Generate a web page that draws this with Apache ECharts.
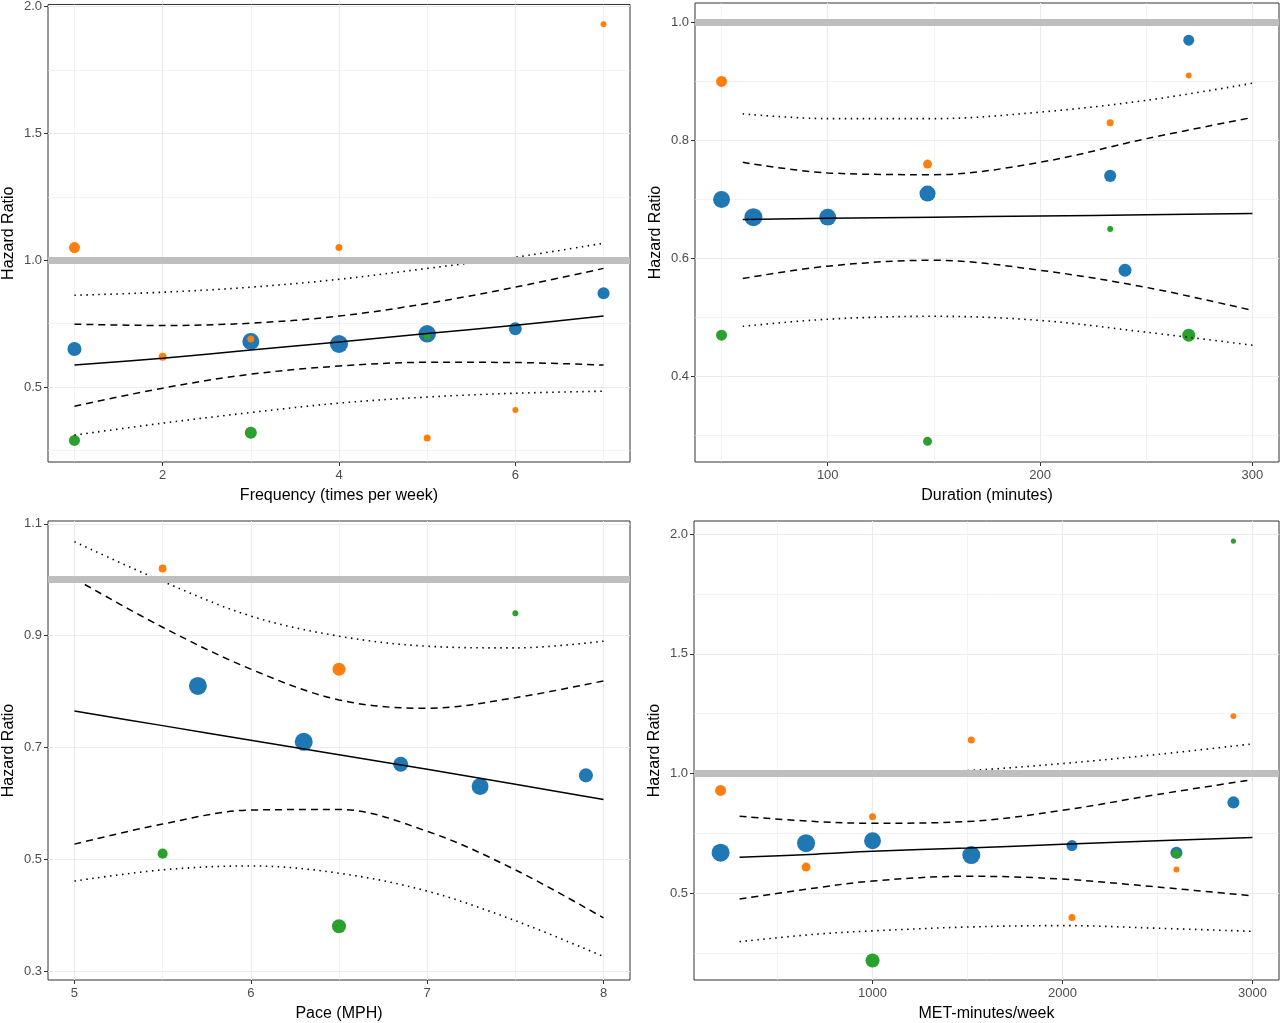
<!DOCTYPE html>
<html>
<head>
<meta charset="utf-8">
<script src="https://cdn.jsdelivr.net/npm/echarts@6/dist/echarts.min.js"></script>
<style>html,body{margin:0;padding:0;background:#fff;}#c{width:1280px;height:1023px;}</style>
</head>
<body>
<div id="c"></div>
<script>
// ---------- Panel 1: Frequency ----------
const p1Title = 'Frequency (times per week)';
const p1XTicks = [2, 4, 6];
const p1YTicks = [0.5, 1.0, 1.5, 2.0];
const p1BlueX = [1, 3, 4, 5, 6, 7];
const p1BlueY = [0.65, 0.68, 0.67, 0.71, 0.73, 0.87];
const p1BlueW = [0.78, 0.94, 1.0, 0.97, 0.72, 0.67];
const p1OrangeX = [1, 2, 3, 4, 5, 6, 7];
const p1OrangeY = [1.05, 0.62, 0.69, 1.05, 0.30, 0.41, 1.93];
const p1OrangeW = [0.61, 0.44, 0.39, 0.39, 0.39, 0.33, 0.33];
const p1GreenX = [1, 3, 5];
const p1GreenY = [0.29, 0.32, 0.70];
const p1GreenW = [0.61, 0.67, 0.39];
const p1LineX = [1, 2, 3, 4, 5, 6, 7];
const p1Fit = [0.587, 0.614, 0.646, 0.678, 0.711, 0.744, 0.780];
const p1DashHi = [0.748, 0.743, 0.752, 0.780, 0.830, 0.894, 0.968];
const p1DashLo = [0.425, 0.496, 0.551, 0.583, 0.598, 0.597, 0.587];
const p1DotHi = [0.862, 0.874, 0.894, 0.925, 0.968, 1.012, 1.067];
const p1DotLo = [0.311, 0.358, 0.400, 0.437, 0.461, 0.476, 0.484];

// ---------- Panel 2: Duration ----------
const p2Title = 'Duration (minutes)';
const p2XTicks = [100, 200, 300];
const p2YTicks = [0.4, 0.6, 0.8, 1.0];
const p2BlueX = [50, 65, 100, 147, 233, 240, 270];
const p2BlueY = [0.70, 0.67, 0.67, 0.71, 0.74, 0.58, 0.97];
const p2BlueW = [0.94, 1.0, 0.94, 0.89, 0.67, 0.72, 0.61];
const p2OrangeX = [50, 147, 233, 270];
const p2OrangeY = [0.90, 0.76, 0.83, 0.91];
const p2OrangeW = [0.61, 0.50, 0.39, 0.33];
const p2GreenX = [50, 147, 233, 270];
const p2GreenY = [0.47, 0.29, 0.65, 0.47];
const p2GreenW = [0.61, 0.50, 0.33, 0.72];
const p2LineX = [60, 100, 150, 200, 250, 300];
const p2Fit = [0.666, 0.668, 0.670, 0.672, 0.674, 0.676];
const p2DashHi = [0.763, 0.745, 0.742, 0.763, 0.803, 0.839];
const p2DashLo = [0.566, 0.587, 0.597, 0.580, 0.551, 0.512];
const p2DotHi = [0.845, 0.837, 0.837, 0.848, 0.868, 0.897];
const p2DotLo = [0.485, 0.497, 0.502, 0.495, 0.475, 0.453];

// ---------- Panel 3: Pace ----------
const p3Title = 'Pace (MPH)';
const p3XTicks = [5, 6, 7, 8];
const p3YTicks = [0.3, 0.5, 0.7, 0.9, 1.1];
const p3BlueX = [5.7, 6.3, 6.85, 7.3, 7.9];
const p3BlueY = [0.81, 0.71, 0.67, 0.63, 0.65];
const p3BlueW = [1.0, 1.0, 0.83, 0.94, 0.78];
const p3OrangeX = [5.5, 6.5];
const p3OrangeY = [1.02, 0.84];
const p3OrangeW = [0.44, 0.72];
const p3GreenX = [5.5, 6.5, 7.5];
const p3GreenY = [0.51, 0.38, 0.94];
const p3GreenW = [0.56, 0.78, 0.33];
const p3LineX = [5, 5.5, 6, 6.5, 7, 7.5, 8];
const p3Fit = [0.765, 0.739, 0.713, 0.687, 0.661, 0.634, 0.607];
const p3DashHi = [1.002, 0.915, 0.840, 0.785, 0.770, 0.789, 0.819];
const p3DashLo = [0.527, 0.563, 0.588, 0.589, 0.550, 0.481, 0.395];
const p3DotHi = [1.068, 0.997, 0.935, 0.899, 0.881, 0.878, 0.890];
const p3DotLo = [0.461, 0.481, 0.488, 0.475, 0.443, 0.390, 0.326];

// ---------- Panel 4: MET-minutes ----------
const p4Title = 'MET-minutes/week';
const p4XTicks = [1000, 2000, 3000];
const p4YTicks = [0.5, 1.0, 1.5, 2.0];
const p4BlueX = [200, 650, 1000, 1520, 2050, 2600, 2900];
const p4BlueY = [0.67, 0.71, 0.72, 0.66, 0.70, 0.67, 0.88];
const p4BlueW = [1.0, 1.0, 0.94, 1.0, 0.61, 0.67, 0.67];
const p4OrangeX = [200, 650, 1000, 1520, 2050, 2600, 2900];
const p4OrangeY = [0.93, 0.61, 0.82, 1.14, 0.40, 0.60, 1.24];
const p4OrangeW = [0.61, 0.50, 0.39, 0.39, 0.39, 0.33, 0.33];
const p4GreenX = [1000, 2600, 2900];
const p4GreenY = [0.22, 0.665, 1.97];
const p4GreenW = [0.78, 0.50, 0.28];
const p4LineX = [300, 700, 1000, 1500, 2000, 2500, 3000];
const p4Fit = [0.651, 0.664, 0.676, 0.690, 0.705, 0.720, 0.734];
const p4DashHi = [0.822, 0.800, 0.793, 0.800, 0.847, 0.913, 0.975];
const p4DashLo = [0.477, 0.523, 0.552, 0.572, 0.560, 0.527, 0.490];
const p4DotHi = [1.000, 1.000, 1.000, 1.013, 1.042, 1.080, 1.124];
const p4DotLo = [0.299, 0.330, 0.344, 0.360, 0.366, 0.355, 0.342];

const yName = 'Hazard Ratio';
const refValue = 1.0;

// ---------- styling / layout ----------
const FONT = 'Liberation Sans, Arial, Helvetica, sans-serif';
const BLUE = '#1f77b4', ORANGE = '#ff7f0e', GREEN = '#2ca02c';
const MAXD = 18;

const panels = [
  {title: p1Title, xt: p1XTicks, yt: p1YTicks, xr: [0.7, 7.3], yr: [0.205, 2.008], xs: 2, ys: 0.5,
   grid: {left: 47, top: 3, width: 583, height: 459},
   pts: [[p1BlueX, p1BlueY, p1BlueW, BLUE], [p1OrangeX, p1OrangeY, p1OrangeW, ORANGE], [p1GreenX, p1GreenY, p1GreenW, GREEN]],
   lx: p1LineX, fit: p1Fit, dh: p1DashHi, dl: p1DashLo, oh: p1DotHi, ol: p1DotLo},
  {title: p2Title, xt: p2XTicks, yt: p2YTicks, xr: [37.5, 312.5], yr: [0.255, 1.033], xs: 100, ys: 0.2,
   grid: {left: 695, top: 3, width: 584, height: 459},
   pts: [[p2BlueX, p2BlueY, p2BlueW, BLUE], [p2OrangeX, p2OrangeY, p2OrangeW, ORANGE], [p2GreenX, p2GreenY, p2GreenW, GREEN]],
   lx: p2LineX, fit: p2Fit, dh: p2DashHi, dl: p2DashLo, oh: p2DotHi, ol: p2DotLo},
  {title: p3Title, xt: p3XTicks, yt: p3YTicks, xr: [4.85, 8.15], yr: [0.284, 1.105], xs: 1, ys: 0.2,
   grid: {left: 47, top: 521, width: 583, height: 462},
   pts: [[p3BlueX, p3BlueY, p3BlueW, BLUE], [p3OrangeX, p3OrangeY, p3OrangeW, ORANGE], [p3GreenX, p3GreenY, p3GreenW, GREEN]],
   lx: p3LineX, fit: p3Fit, dh: p3DashHi, dl: p3DashLo, oh: p3DotHi, ol: p3DotLo},
  {title: p4Title, xt: p4XTicks, yt: p4YTicks, xr: [60, 3140], yr: [0.139, 2.054], xs: 1000, ys: 0.5,
   grid: {left: 694, top: 521, width: 585, height: 462},
   pts: [[p4BlueX, p4BlueY, p4BlueW, BLUE], [p4OrangeX, p4OrangeY, p4OrangeW, ORANGE], [p4GreenX, p4GreenY, p4GreenW, GREEN]],
   lx: p4LineX, fit: p4Fit, dh: p4DashHi, dl: p4DashLo, oh: p4DotHi, ol: p4DotLo}
];

const zip = (a, b) => a.map((v, i) => [v, b[i]]);

function axisCommon(ticks, step, min, max) {
  return {
    type: 'value', min: min, max: max, minInterval: step, maxInterval: step,
    axisLine: {show: false},
    axisTick: {show: true, length: 4, lineStyle: {color: '#333333', width: 1}, customValues: ticks},
    axisLabel: {show: true, color: '#4d4d4d', fontSize: 13, fontFamily: FONT, customValues: ticks,
      formatter: v => (Math.abs(step) < 1 ? Number(v).toFixed(1) : String(v))},
    splitLine: {show: true, lineStyle: {color: '#ebebeb', width: 1.1}},
    minorTick: {show: false, splitNumber: 2},
    minorSplitLine: {show: true, lineStyle: {color: '#ebebeb', width: 0.6}},
    nameLocation: 'middle',
    nameTextStyle: {color: '#000', fontSize: 16, fontFamily: FONT}
  };
}

const grids = [], xAxes = [], yAxes = [], series = [];
panels.forEach((p, i) => {
  grids.push(Object.assign({show: true, borderColor: '#333333', borderWidth: 1, backgroundColor: 'transparent'}, p.grid));
  const xa = axisCommon(p.xt, p.xs, p.xr[0], p.xr[1]);
  xa.gridIndex = i; xa.name = p.title; xa.nameGap = 26;
  xa.axisLabel.margin = 7;
  xAxes.push(xa);
  const ya = axisCommon(p.yt, p.ys, p.yr[0], p.yr[1]);
  ya.gridIndex = i; ya.name = yName; ya.nameGap = 31;
  ya.axisLabel.margin = 6;
  yAxes.push(ya);

  // reference line at HR = 1
  series.push({type: 'line', xAxisIndex: i, yAxisIndex: i, data: [], z: 1, silent: true,
    markLine: {silent: true, symbol: 'none', label: {show: false},
      lineStyle: {color: '#bebebe', width: 7, type: 'solid'}, data: [{yAxis: refValue}], animation: false}});

  // points
  p.pts.forEach(([xs, ys, ws, col]) => {
    series.push({type: 'scatter', xAxisIndex: i, yAxisIndex: i, z: 3,
      data: xs.map((x, k) => [x, ys[k], ws[k]]),
      symbolSize: d => d[2] * MAXD,
      itemStyle: {color: col, opacity: 1}});
  });

  // fitted curves
  const mk = (ys, type, w) => ({type: 'line', xAxisIndex: i, yAxisIndex: i, z: 4, smooth: 0.35,
    showSymbol: false, symbol: 'none', data: zip(p.lx, ys),
    lineStyle: {color: '#000', width: w, type: type}});
  series.push(mk(p.fit, 'solid', 1.5));
  series.push(mk(p.dh, [7, 5], 1.5));
  series.push(mk(p.dl, [7, 5], 1.5));
  series.push(mk(p.oh, [1.5, 4.5], 1.6));
  series.push(mk(p.ol, [1.5, 4.5], 1.6));
});

const chart = echarts.init(document.getElementById('c'), null, {renderer: 'canvas'});
chart.setOption({
  animation: false,
  backgroundColor: '#ffffff',
  textStyle: {fontFamily: FONT},
  grid: grids, xAxis: xAxes, yAxis: yAxes, series: series
});
</script>
</body>
</html>
